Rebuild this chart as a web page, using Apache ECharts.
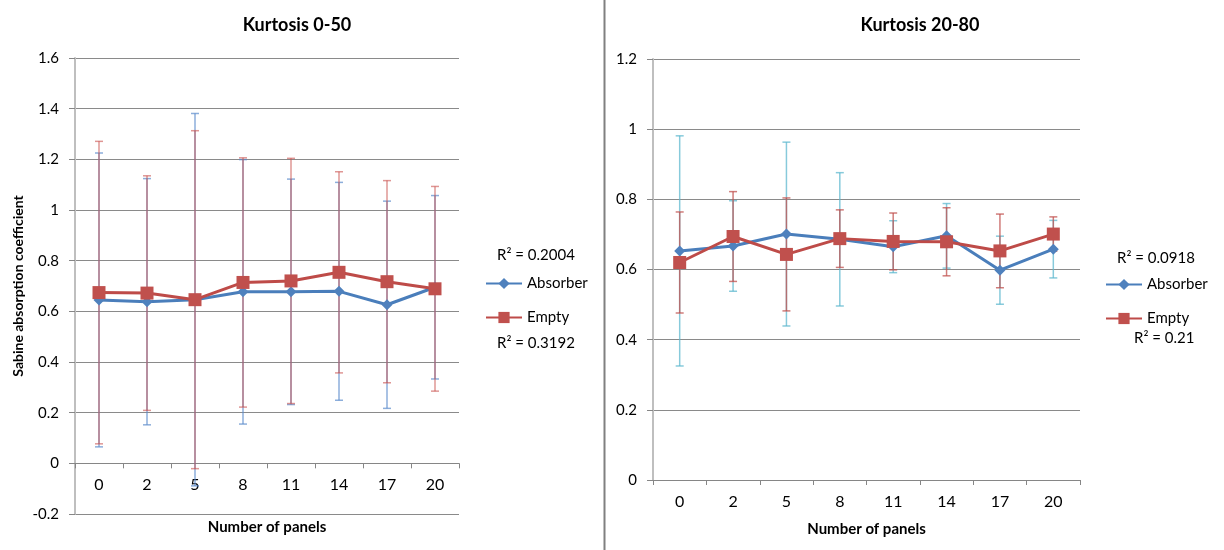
<!DOCTYPE html>
<html>
<head>
<meta charset="utf-8">
<title>Sabine absorption coefficient vs number of panels</title>
<script src="https://cdn.jsdelivr.net/npm/echarts@6/dist/echarts.min.js"></script>
<style>
  html, body { margin: 0; padding: 0; background: #ffffff; }
  #chart { width: 1224px; height: 550px; }
</style>
</head>
<body>
<div id="chart"></div>
<script>
// Categories: number of absorber panels in the room
const panels = ['0', '2', '5', '8', '11', '14', '17', '20'];

// Kurtosis 0-50: mean Sabine absorption coefficient and standard deviation
const absorberMean050 = [0.645, 0.638, 0.646, 0.677, 0.677, 0.679, 0.626, 0.695];
const absorberSd050   = [0.580, 0.486, 0.735, 0.522, 0.445, 0.430, 0.409, 0.362];
const emptyMean050    = [0.674, 0.672, 0.646, 0.714, 0.720, 0.754, 0.717, 0.689];
const emptySd050      = [0.597, 0.463, 0.667, 0.492, 0.484, 0.397, 0.399, 0.404];

// Kurtosis 20-80: mean Sabine absorption coefficient and standard deviation
const absorberMean2080 = [0.653, 0.667, 0.701, 0.686, 0.665, 0.696, 0.598, 0.658];
const absorberSd2080   = [0.328, 0.129, 0.262, 0.190, 0.074, 0.092, 0.097, 0.082];
const emptyMean2080    = [0.620, 0.694, 0.643, 0.688, 0.680, 0.679, 0.653, 0.701];
const emptySd2080      = [0.144, 0.128, 0.161, 0.082, 0.081, 0.097, 0.105, 0.049];

// Coefficient of determination of each series' trend
const r2Left  = { absorber: '0.2004', empty: '0.3192' };
const r2Right = { absorber: '0.0918', empty: '0.21' };

const FONT = 'Lato, "Open Sans", "Noto Sans", sans-serif';
const BLUE = '#4a7ebb';
const BLUE_FILL = '#4f81bd';
const RED = '#be4b48';
const RED_FILL = '#c0504d';

const chart = echarts.init(document.getElementById('chart'), null, { renderer: 'canvas' });

function tickLabel(v) {
  return String(Math.round(v * 10) / 10);
}

// Vertical error bar with caps, spanning mean - sd .. mean + sd
function errorBars(color, opacity) {
  return function (params, api) {
    const i = api.value(0);
    const lo = api.coord([i, api.value(1)]);
    const hi = api.coord([i, api.value(2)]);
    const hw = 4;
    const style = { stroke: color, lineWidth: 1.5, opacity: opacity };
    return {
      type: 'group',
      children: [
        { type: 'line', shape: { x1: lo[0], y1: lo[1], x2: hi[0], y2: hi[1] }, style: style },
        { type: 'line', shape: { x1: lo[0] - hw, y1: lo[1], x2: lo[0] + hw, y2: lo[1] }, style: style },
        { type: 'line', shape: { x1: hi[0] - hw, y1: hi[1], x2: hi[0] + hw, y2: hi[1] }, style: style }
      ]
    };
  };
}

function barData(mean, sd) {
  return mean.map((m, i) => [i, +(m - sd[i]).toFixed(4), +(m + sd[i]).toFixed(4)]);
}

function errorSeries(name, idx, mean, sd, color, opacity) {
  return {
    name: name,
    type: 'custom',
    xAxisIndex: idx,
    yAxisIndex: idx,
    z: 1,
    silent: true,
    renderItem: errorBars(color, opacity),
    encode: { x: 0, y: [1, 2] },
    data: barData(mean, sd)
  };
}

function lineSeries(name, idx, values, isAbsorber) {
  return {
    name: name,
    type: 'line',
    xAxisIndex: idx,
    yAxisIndex: idx,
    z: isAbsorber ? 3 : 4,
    data: values,
    symbol: isAbsorber ? 'diamond' : 'rect',
    symbolSize: isAbsorber ? 11 : 13,
    lineStyle: { color: isAbsorber ? BLUE : RED, width: 3 },
    itemStyle: { color: isAbsorber ? BLUE_FILL : RED_FILL, borderWidth: 0 },
    emphasis: { disabled: true }
  };
}

function xAxis(gridIndex, nameGap) {
  return {
    type: 'category',
    gridIndex: gridIndex,
    data: panels,
    boundaryGap: true,
    name: 'Number of panels',
    nameLocation: 'middle',
    nameGap: nameGap,
    nameTextStyle: { fontFamily: FONT, fontSize: 15, fontWeight: 'bold', color: '#000' },
    axisLine: { show: true, onZero: false, lineStyle: { color: '#868686', width: 1 } },
    axisTick: { show: true, length: 5, lineStyle: { color: '#868686' } },
    axisLabel: { fontFamily: FONT, fontSize: 16, color: '#000', margin: 14 },
    splitLine: { show: false }
  };
}

function yAxis(gridIndex, min, max, name) {
  return {
    type: 'value',
    gridIndex: gridIndex,
    min: min,
    max: max,
    interval: 0.2,
    name: name,
    nameLocation: 'middle',
    nameGap: 50,
    nameTextStyle: { fontFamily: FONT, fontSize: 14, fontWeight: 'bold', color: '#000' },
    axisLine: { show: true, onZero: false, lineStyle: { color: '#bfbfbf', width: 2 } },
    axisTick: { show: true, length: 6, lineStyle: { color: '#868686' } },
    axisLabel: { fontFamily: FONT, fontSize: 15, color: '#000', margin: 16, formatter: tickLabel },
    splitLine: { show: true, lineStyle: { color: '#8a8a8a', width: 1 } }
  };
}

function legend(left, top) {
  return {
    orient: 'vertical',
    left: left,
    top: top,
    padding: 0,
    itemWidth: 36,
    itemHeight: 14,
    itemGap: 19,
    selectedMode: false,
    data: ['Absorber', 'Empty'],
    textStyle: { fontFamily: FONT, fontSize: 15, color: '#000' }
  };
}

function r2Text(x, y, value) {
  return {
    type: 'text',
    left: x,
    top: y,
    style: { text: 'R² = ' + value, font: '15px ' + FONT, fill: '#000' }
  };
}

const option = {
  backgroundColor: '#ffffff',
  animation: false,
  title: [
    {
      text: 'Kurtosis 0-50',
      left: 292, top: 11, textAlign: 'center',
      textStyle: { fontFamily: FONT, fontSize: 18, fontWeight: 'bold', color: '#000' }
    },
    {
      text: 'Kurtosis 20-80',
      left: 915, top: 11, textAlign: 'center',
      textStyle: { fontFamily: FONT, fontSize: 18, fontWeight: 'bold', color: '#000' }
    }
  ],
  grid: [
    { left: 75, top: 58, width: 384, height: 456, containLabel: false, outerBoundsMode: 'none' },
    { left: 653, top: 59, width: 427, height: 421, containLabel: false, outerBoundsMode: 'none' }
  ],
  xAxis: [xAxis(0, 56), xAxis(1, 42)],
  yAxis: [
    yAxis(0, -0.2, 1.6, 'Sabine absorption coefficient'),
    Object.assign(yAxis(1, 0, 1.2, ''), { name: '' })
  ],
  legend: [legend(485, 276), legend(1105, 277)],
  graphic: [
    {
      type: 'line',
      shape: { x1: 604.5, y1: 0, x2: 604.5, y2: 550 },
      style: { stroke: '#808080', lineWidth: 2 }
    },
    r2Text(497, 248, r2Left.absorber),
    r2Text(497, 336, r2Left.empty),
    r2Text(1117, 251, r2Right.absorber),
    r2Text(1134, 331, r2Right.empty)
  ],
  series: [
    errorSeries('Absorber spread 0-50', 0, absorberMean050, absorberSd050, '#5b8ccc', 0.7),
    errorSeries('Empty spread 0-50', 0, emptyMean050, emptySd050, '#c9504d', 0.6),
    lineSeries('Absorber', 0, absorberMean050, true),
    lineSeries('Empty', 0, emptyMean050, false),
    errorSeries('Absorber spread 20-80', 1, absorberMean2080, absorberSd2080, '#5fb8cf', 0.75),
    errorSeries('Empty spread 20-80', 1, emptyMean2080, emptySd2080, '#c0504d', 0.75),
    lineSeries('Absorber', 1, absorberMean2080, true),
    lineSeries('Empty', 1, emptyMean2080, false)
  ]
};

chart.setOption(option);

// Move the left category axis up so it crosses the value axis at 0
const yZero = chart.convertToPixel({ yAxisIndex: 0 }, 0);
const yBottom = chart.convertToPixel({ yAxisIndex: 0 }, -0.2);
chart.setOption({ xAxis: [{ offset: -(yBottom - yZero) }, {}] });
</script>
</body>
</html>
